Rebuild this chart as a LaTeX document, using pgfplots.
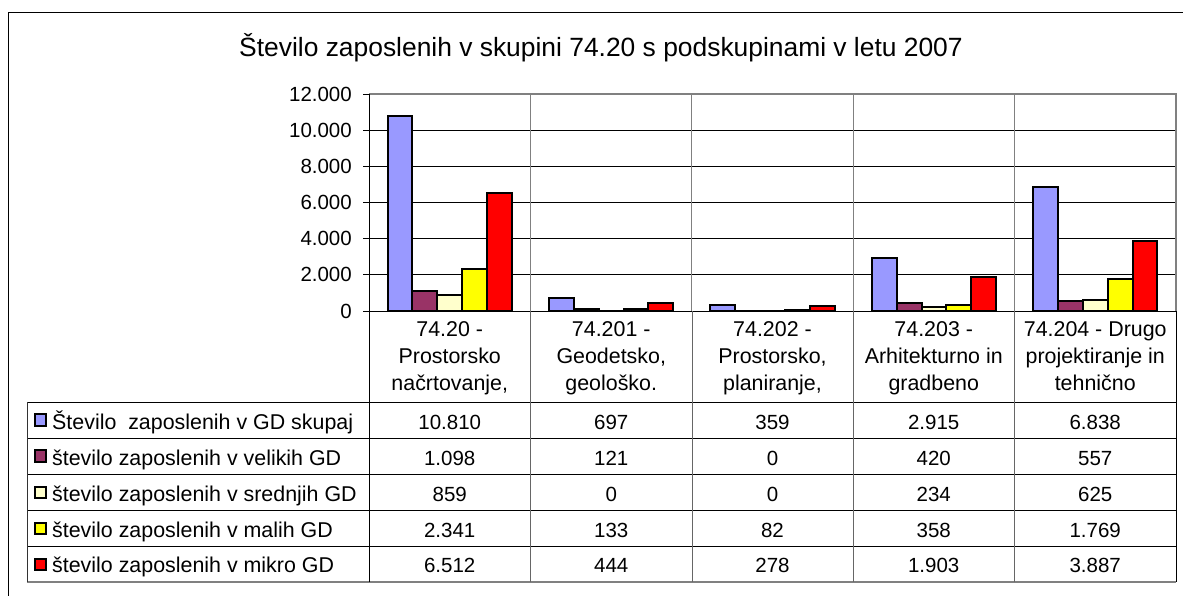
\documentclass[border=0pt]{standalone}
\usepackage{pgfplots}
\usepackage{pgfplotstable}
\pgfplotsset{compat=1.18}
\usepackage{fontspec}
\setmainfont{Liberation Sans}
\definecolor{c1}{HTML}{9999FF}
\definecolor{c2}{HTML}{993366}
\definecolor{c3}{HTML}{FFFFCC}
\definecolor{c4}{HTML}{FFFF00}
\definecolor{c5}{HTML}{FF0000}
\newcommand\fs{\fontsize{20.5bp}{24bp}\selectfont}
\newcommand\ft{\fontsize{21.4bp}{25bp}\selectfont}
\pgfkeys{/pgf/number format/.cd, 1000 sep={.}, assume math mode=true}
\pgfplotstableread{
x a b c d e
0 10810 1098 859 2341 6512
1 697 121 0 133 444
2 359 0 0 82 278
3 2915 420 234 358 1903
4 6838 557 625 1769 3887
}\datatable
\begin{document}
\begin{tikzpicture}
\useasboundingbox (0bp,0bp) rectangle (1183bp,596bp);
\begin{axis}[
  at={(369bp,285bp)}, anchor=south west,
  scale only axis, width=807bp, height=217bp,
  xmin=-0.5, xmax=4.5, ymin=0, ymax=12000,
  xtick=\empty,
  extra x ticks={0.5,1.5,2.5,3.5},
  extra x tick labels={},
  extra x tick style={grid=major, major tick length=0pt},
  x grid style={draw=gray, line width=1bp},
  ytick={0,2000,4000,6000,8000,10000,12000},
  scaled y ticks=false,
  ymajorgrids,
  y grid style={draw=black, line width=0.75bp},
  ytick pos=left,
  tick align=outside, major tick length=6bp,
  tick style={black, line width=0.75bp},
  axis line style={draw=none},
  yticklabel style={font=\fs, anchor=east, inner sep=0pt, xshift=-11bp},
  /pgf/number format/assume math mode=true,
  /pgf/number format/1000 sep={.},
  ybar, bar width=0.1537,
  clip=false,
]
\addplot[draw=black, line width=2bp, fill=c1, bar shift=-0.3074] table[x=x,y=a]{\datatable};
\addplot[draw=black, line width=2bp, fill=c2, bar shift=-0.1537] table[x=x,y=b]{\datatable};
\addplot[draw=black, line width=2bp, fill=c3, bar shift=0] table[x=x,y=c]{\datatable};
\addplot[draw=black, line width=2bp, fill=c4, bar shift=0.1537] table[x=x,y=d]{\datatable};
\addplot[draw=black, line width=2bp, fill=c5, bar shift=0.3074] table[x=x,y=e]{\datatable};
\draw[gray, line width=1.5bp] (rel axis cs:0,1) -- (rel axis cs:1,1) -- (rel axis cs:1,0);
\draw[black, line width=0.9bp] (rel axis cs:0,1) -- (rel axis cs:0,0) -- (rel axis cs:1,0);
\end{axis}
\begin{scope}[x=1bp,y=1bp]
% outer frame
\draw[black, line width=1bp] (8,0) -- (8,583) -- (1183,583);
% title
\node[anchor=base, inner sep=0pt, font=\fontsize{26.4bp}{30bp}\selectfont] at (601,539.3) {Število zaposlenih v skupini 74.20 s podskupinami v letu 2007};
% table grid
\foreach \yy in {194,158,121.5,85.5,49.5} {\draw[black, line width=0.9bp] (27,\yy) -- (1176,\yy);}
\draw[gray, line width=1.2bp] (27,14) -- (1176,14);
\draw[black!80, line width=0.9bp] (27,194) -- (27,14);
\draw[black, line width=0.9bp] (369,285) -- (369,14);
\foreach \xx in {530.5,692,853,1014.5} {\draw[gray!80!black, line width=1bp] (\xx,285) -- (\xx,14);}
\draw[black, line width=0.9bp] (1176,285) -- (1176,14);
% header
\foreach \xc/\la/\lb/\lc in {449.75/74.20 -/Prostorsko/načrtovanje{,},
  611.25/74.201 -/Geodetsko{,}/geološko.,
  772.5/74.202 -/Prostorsko{,}/planiranje{,},
  933.75/74.203 -/Arhitekturno in/gradbeno,
  1095.25/74.204 - Drugo/projektiranje in/tehnično} {
  \node[anchor=base, inner sep=0pt, font=\ft] at (\xc,260) {\la};
  \node[anchor=base, inner sep=0pt, font=\ft] at (\xc,233) {\lb};
  \node[anchor=base, inner sep=0pt, font=\ft] at (\xc,206) {\lc};
}
% values
\foreach \col/\yb in {a/166.7, b/131, c/95, d/59, e/23.5} {
  \foreach \r/\xc in {0/449.75, 1/611.25, 2/772.5, 3/933.75, 4/1095.25} {
    \pgfplotstablegetelem{\r}{\col}\of\datatable
    \node[anchor=base, inner sep=0pt, font=\fs] at (\xc,\yb) {\pgfmathprintnumber{\pgfplotsretval}};
  }
}
% legend keys and labels
\foreach \c/\yk/\yb/\txt in {c1/176/166.7/{Število\ \ zaposlenih v GD skupaj},
  c2/140/131/{število zaposlenih v velikih GD},
  c3/103.5/95/{število zaposlenih v srednjih GD},
  c4/67.5/59/{število zaposlenih v malih GD},
  c5/31.5/23.5/{število zaposlenih v mikro GD}} {
  \node[draw=black, line width=2bp, fill=\c, minimum size=11.5bp, inner sep=0pt] at (40.5,\yk) {};
  \node[anchor=base west, inner sep=0pt, font=\ft] at (52,\yb) {\txt};
}
\end{scope}
\end{tikzpicture}
\end{document}
